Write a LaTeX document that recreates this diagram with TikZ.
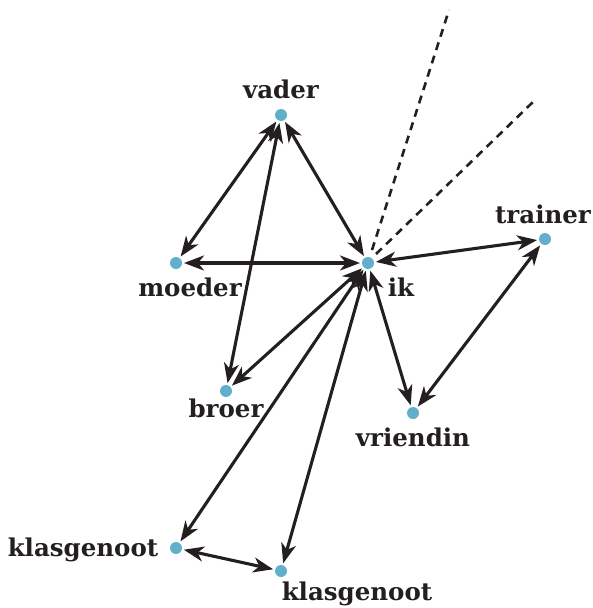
\documentclass[tikz,border=0pt]{standalone}
\usepackage{fontspec}
\setmainfont{DejaVu Serif}
\usetikzlibrary{arrows.meta}
\definecolor{dotblue}{HTML}{62AFCB}
\definecolor{ink}{HTML}{231F20}
\tikzset{
  pt/.style={circle,fill=dotblue,inner sep=0pt,minimum size=12pt,outer sep=2pt},
  lbl/.style={text=ink,font=\bfseries\fontsize{24.5}{24.5}\selectfont,inner sep=0pt},
  link/.style={draw=ink,line width=3.1pt,{Stealth[length=20pt,width=15pt,inset=6pt]}-{Stealth[length=20pt,width=15pt,inset=6pt]}},
  ray/.style={draw=ink,line width=2.6pt,dash pattern=on 8pt off 6pt}
}
\begin{document}
\begin{tikzpicture}[x=1pt,y=-1pt]
\useasboundingbox (0,0) rectangle (592,608);
\node[pt] (vader) at (281,115) {};
\node[pt] (moeder) at (176,263) {};
\node[pt] (ik) at (368,263) {};
\node[pt] (trainer) at (545,239) {};
\node[pt] (broer) at (226,391) {};
\node[pt] (vriendin) at (413,413) {};
\node[pt] (k1) at (176,548) {};
\node[pt] (k2) at (281,571) {};
\coordinate (r1) at (449,10);
\coordinate (r2) at (534,101);
\coordinate (r0) at (372,250);
\coordinate (r0b) at (376,254);
\node[lbl] (tvader) at (281,89) {vader};
\node[lbl] (tmoeder) at (190,287) {moeder};
\node[lbl] (tik) at (401,287) {ik};
\node[lbl] (ttrainer) at (543,214) {trainer};
\node[lbl] (tbroer) at (226,408) {broer};
\node[lbl] (tvriendin) at (413,437) {vriendin};
\node[lbl] (tk1) at (83,550) {klasgenoot};
\node[lbl] (tk2) at (357,594) {klasgenoot};
\draw[ray] (r0) -- (r1);
\draw[ray] (r0b) -- (r2);
\draw[link] (vader) -- (moeder);
\draw[link] (vader) -- (broer);
\draw[link] (vader) -- (ik);
\draw[link] (moeder) -- (ik);
\draw[link] (ik) -- (trainer);
\draw[link] (ik) -- (broer);
\draw[link] (ik) -- (vriendin);
\draw[link] (trainer) -- (vriendin);
\draw[link] (ik) -- (k1);
\draw[link] (ik) -- (k2);
\draw[link] (k1) -- (k2);
\end{tikzpicture}
\end{document}
